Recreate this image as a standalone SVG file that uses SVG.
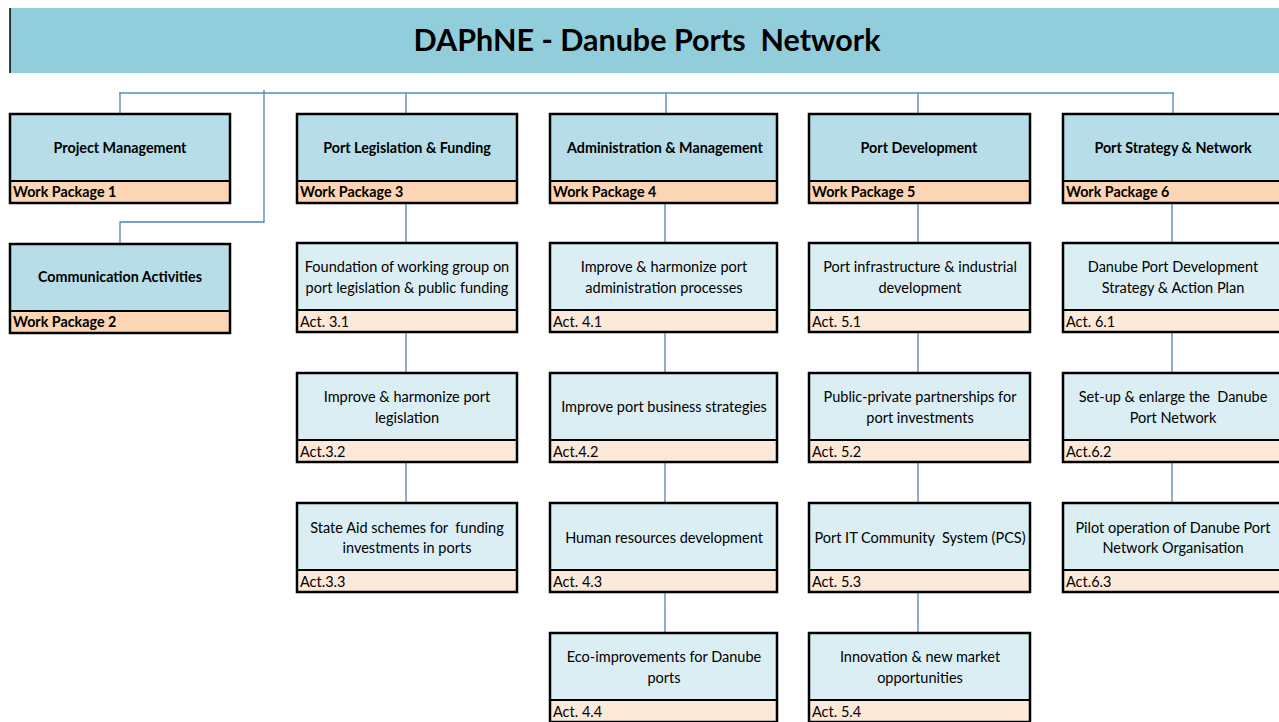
<svg xmlns="http://www.w3.org/2000/svg" width="1279" height="722" viewBox="0 0 1279 722">
<style>
text{white-space:pre}
.title{font-family:Lato,"Liberation Sans",sans-serif;font-weight:bold;font-size:30.5px;fill:#000;text-anchor:middle}
.hd{font-family:Lato,"Liberation Sans",sans-serif;font-weight:bold;font-size:14.3px;fill:#000;text-anchor:middle}
.wp{font-family:Lato,"Liberation Sans",sans-serif;font-weight:bold;font-size:14.3px;fill:#000}
.ac{font-family:Lato,"Liberation Sans",sans-serif;font-size:14.5px;fill:#000;text-anchor:middle}
.al{font-family:Lato,"Liberation Sans",sans-serif;font-size:14.5px;fill:#000}
.htop{fill:#B7DDE8}
.hbot{fill:#FCD5B4}
.atop{fill:#DAEEF3}
.abot{fill:#FDE9D9}
.frame{fill:none;stroke:#000;stroke-width:2.5}
.div{stroke:#000;stroke-width:2}
.conn{stroke:#4F81BD;stroke-width:1.3;fill:none}
.bus{stroke:#7FA7DA;stroke-width:2;fill:none}
</style>
<g id="title">
<rect x="10" y="8" width="1275" height="65" fill="#92CDDC"/>
<line x1="10" y1="8" x2="10" y2="73" stroke="#000" stroke-width="1.5"/>
<text class="title" x="647" y="51">DAPhNE - Danube Ports  Network</text>
</g>
<g id="connectors">
<line class="bus" x1="119" y1="93" x2="1174" y2="93"/>
<line class="conn" x1="120" y1="93" x2="120" y2="114"/>
<line class="conn" x1="406" y1="93" x2="406" y2="114"/>
<line class="conn" x1="666" y1="93" x2="666" y2="114"/>
<line class="conn" x1="918" y1="93" x2="918" y2="114"/>
<line class="conn" x1="1173" y1="93" x2="1173" y2="114"/>
<polyline class="conn" points="264,90 264,222 120,222 120,243"/>
<line class="conn" x1="406" y1="203" x2="406" y2="243"/>
<line class="conn" x1="406" y1="332" x2="406" y2="373"/>
<line class="conn" x1="406" y1="462" x2="406" y2="503"/>
<line class="conn" x1="665" y1="203" x2="665" y2="243"/>
<line class="conn" x1="665" y1="332" x2="665" y2="373"/>
<line class="conn" x1="665" y1="462" x2="665" y2="503"/>
<line class="conn" x1="665" y1="592" x2="665" y2="633"/>
<line class="conn" x1="918" y1="203" x2="918" y2="243"/>
<line class="conn" x1="918" y1="332" x2="918" y2="373"/>
<line class="conn" x1="918" y1="462" x2="918" y2="503"/>
<line class="conn" x1="918" y1="592" x2="918" y2="633"/>
<line class="conn" x1="1172" y1="203" x2="1172" y2="243"/>
<line class="conn" x1="1172" y1="332" x2="1172" y2="373"/>
<line class="conn" x1="1172" y1="462" x2="1172" y2="503"/>
</g>

<g id="wp1">
<rect class="htop" x="10" y="114" width="220" height="67"/><rect class="hbot" x="10" y="181" width="220" height="22"/>
<line class="div" x1="10" y1="181" x2="230" y2="181"/><rect class="frame" x="10" y="114" width="220" height="89"/>
<text class="hd" x="120" y="153">Project Management</text><text class="wp" x="13" y="197">Work Package 1</text>
</g>
<g id="wp2">
<rect class="htop" x="10" y="244" width="220" height="67"/><rect class="hbot" x="10" y="311" width="220" height="22"/>
<line class="div" x1="10" y1="311" x2="230" y2="311"/><rect class="frame" x="10" y="244" width="220" height="89"/>
<text class="hd" x="120" y="282">Communication Activities</text><text class="wp" x="13" y="327">Work Package 2</text>
</g>
<g id="wp3">
<rect class="htop" x="297" y="114" width="220" height="67"/><rect class="hbot" x="297" y="181" width="220" height="22"/>
<line class="div" x1="297" y1="181" x2="517" y2="181"/><rect class="frame" x="297" y="114" width="220" height="89"/>
<text class="hd" x="407" y="153">Port Legislation &amp; Funding</text><text class="wp" x="300" y="197">Work Package 3</text>
</g>
<g id="wp4">
<rect class="htop" x="550" y="114" width="227" height="67"/><rect class="hbot" x="550" y="181" width="227" height="22"/>
<line class="div" x1="550" y1="181" x2="777" y2="181"/><rect class="frame" x="550" y="114" width="227" height="89"/>
<text class="hd" x="665" y="153">Administration &amp; Management</text><text class="wp" x="553" y="197">Work Package 4</text>
</g>
<g id="wp5">
<rect class="htop" x="809" y="114" width="221" height="67"/><rect class="hbot" x="809" y="181" width="221" height="22"/>
<line class="div" x1="809" y1="181" x2="1030" y2="181"/><rect class="frame" x="809" y="114" width="221" height="89"/>
<text class="hd" x="919" y="153">Port Development</text><text class="wp" x="812" y="197">Work Package 5</text>
</g>
<g id="wp6">
<rect class="htop" x="1063" y="114" width="220" height="67"/><rect class="hbot" x="1063" y="181" width="220" height="22"/>
<line class="div" x1="1063" y1="181" x2="1283" y2="181"/><rect class="frame" x="1063" y="114" width="220" height="89"/>
<text class="hd" x="1173" y="153">Port Strategy &amp; Network</text><text class="wp" x="1066" y="197">Work Package 6</text>
</g>

<g id="act31">
<rect class="atop" x="297" y="243" width="220" height="67"/><rect class="abot" x="297" y="310" width="220" height="22"/>
<line class="div" x1="297" y1="310" x2="517" y2="310"/><rect class="frame" x="297" y="243" width="220" height="89"/>
<text class="ac" x="407" y="272">Foundation of working group on</text><text class="ac" x="407" y="293">port legislation &amp; public funding</text>
<text class="al" x="300" y="327">Act. 3.1</text>
</g>
<g id="act32">
<rect class="atop" x="297" y="373" width="220" height="67"/><rect class="abot" x="297" y="440" width="220" height="22"/>
<line class="div" x1="297" y1="440" x2="517" y2="440"/><rect class="frame" x="297" y="373" width="220" height="89"/>
<text class="ac" x="407" y="402">Improve &amp; harmonize port</text><text class="ac" x="407" y="423">legislation</text>
<text class="al" x="300" y="457">Act.3.2</text>
</g>
<g id="act33">
<rect class="atop" x="297" y="503" width="220" height="67"/><rect class="abot" x="297" y="570" width="220" height="22"/>
<line class="div" x1="297" y1="570" x2="517" y2="570"/><rect class="frame" x="297" y="503" width="220" height="89"/>
<text class="ac" x="407" y="533">State Aid schemes for  funding</text><text class="ac" x="407" y="553">investments in ports</text>
<text class="al" x="300" y="587">Act.3.3</text>
</g>

<g id="act41">
<rect class="atop" x="550" y="243" width="227" height="67"/><rect class="abot" x="550" y="310" width="227" height="22"/>
<line class="div" x1="550" y1="310" x2="777" y2="310"/><rect class="frame" x="550" y="243" width="227" height="89"/>
<text class="ac" x="664" y="272">Improve &amp; harmonize port</text><text class="ac" x="664" y="293">administration processes</text>
<text class="al" x="553" y="327">Act. 4.1</text>
</g>
<g id="act42">
<rect class="atop" x="550" y="373" width="227" height="67"/><rect class="abot" x="550" y="440" width="227" height="22"/>
<line class="div" x1="550" y1="440" x2="777" y2="440"/><rect class="frame" x="550" y="373" width="227" height="89"/>
<text class="ac" x="664" y="412">Improve port business strategies</text>
<text class="al" x="553" y="457">Act.4.2</text>
</g>
<g id="act43">
<rect class="atop" x="550" y="503" width="227" height="67"/><rect class="abot" x="550" y="570" width="227" height="22"/>
<line class="div" x1="550" y1="570" x2="777" y2="570"/><rect class="frame" x="550" y="503" width="227" height="89"/>
<text class="ac" x="664" y="543">Human resources development</text>
<text class="al" x="553" y="587">Act. 4.3</text>
</g>
<g id="act44">
<rect class="atop" x="550" y="633" width="227" height="67"/><rect class="abot" x="550" y="700" width="227" height="22"/>
<line class="div" x1="550" y1="700" x2="777" y2="700"/><rect class="frame" x="550" y="633" width="227" height="89"/>
<text class="ac" x="664" y="662">Eco-improvements for Danube</text><text class="ac" x="664" y="683">ports</text>
<text class="al" x="553" y="717">Act. 4.4</text>
</g>

<g id="act51">
<rect class="atop" x="809" y="243" width="221" height="67"/><rect class="abot" x="809" y="310" width="221" height="22"/>
<line class="div" x1="809" y1="310" x2="1030" y2="310"/><rect class="frame" x="809" y="243" width="221" height="89"/>
<text class="ac" x="920" y="272">Port infrastructure &amp; industrial</text><text class="ac" x="920" y="293">development</text>
<text class="al" x="812" y="327">Act. 5.1</text>
</g>
<g id="act52">
<rect class="atop" x="809" y="373" width="221" height="67"/><rect class="abot" x="809" y="440" width="221" height="22"/>
<line class="div" x1="809" y1="440" x2="1030" y2="440"/><rect class="frame" x="809" y="373" width="221" height="89"/>
<text class="ac" x="920" y="402">Public-private partnerships for</text><text class="ac" x="920" y="423">port investments</text>
<text class="al" x="812" y="457">Act. 5.2</text>
</g>
<g id="act53">
<rect class="atop" x="809" y="503" width="221" height="67"/><rect class="abot" x="809" y="570" width="221" height="22"/>
<line class="div" x1="809" y1="570" x2="1030" y2="570"/><rect class="frame" x="809" y="503" width="221" height="89"/>
<text class="ac" x="920" y="543">Port IT Community  System (PCS)</text>
<text class="al" x="812" y="587">Act. 5.3</text>
</g>
<g id="act54">
<rect class="atop" x="809" y="633" width="221" height="67"/><rect class="abot" x="809" y="700" width="221" height="22"/>
<line class="div" x1="809" y1="700" x2="1030" y2="700"/><rect class="frame" x="809" y="633" width="221" height="89"/>
<text class="ac" x="920" y="662">Innovation &amp; new market</text><text class="ac" x="920" y="683">opportunities</text>
<text class="al" x="812" y="717">Act. 5.4</text>
</g>

<g id="act61">
<rect class="atop" x="1063" y="243" width="220" height="67"/><rect class="abot" x="1063" y="310" width="220" height="22"/>
<line class="div" x1="1063" y1="310" x2="1283" y2="310"/><rect class="frame" x="1063" y="243" width="220" height="89"/>
<text class="ac" x="1173" y="272">Danube Port Development</text><text class="ac" x="1173" y="293">Strategy &amp; Action Plan</text>
<text class="al" x="1066" y="327">Act. 6.1</text>
</g>
<g id="act62">
<rect class="atop" x="1063" y="373" width="220" height="67"/><rect class="abot" x="1063" y="440" width="220" height="22"/>
<line class="div" x1="1063" y1="440" x2="1283" y2="440"/><rect class="frame" x="1063" y="373" width="220" height="89"/>
<text class="ac" x="1173" y="402">Set-up &amp; enlarge the  Danube</text><text class="ac" x="1173" y="423">Port Network</text>
<text class="al" x="1066" y="457">Act.6.2</text>
</g>
<g id="act63">
<rect class="atop" x="1063" y="503" width="220" height="67"/><rect class="abot" x="1063" y="570" width="220" height="22"/>
<line class="div" x1="1063" y1="570" x2="1283" y2="570"/><rect class="frame" x="1063" y="503" width="220" height="89"/>
<text class="ac" x="1173" y="533">Pilot operation of Danube Port</text><text class="ac" x="1173" y="553">Network Organisation</text>
<text class="al" x="1066" y="587">Act.6.3</text>
</g>
</svg>
